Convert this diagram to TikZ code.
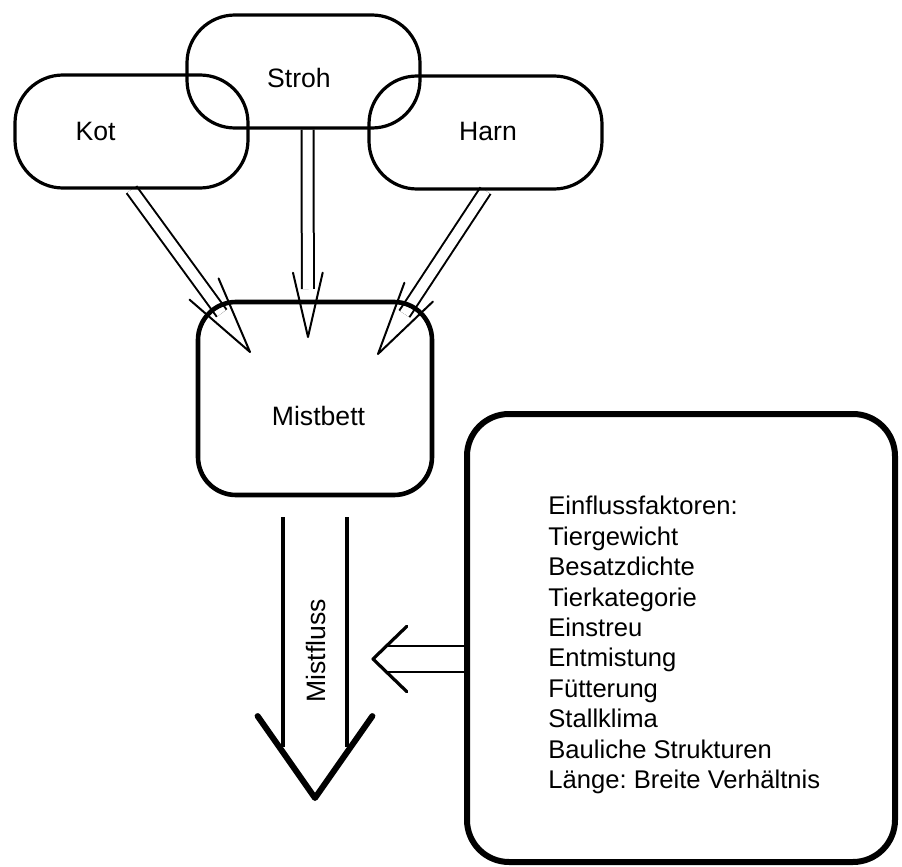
\documentclass[tikz,border=0pt]{standalone}
\usepackage{fontspec}
\setmainfont{Liberation Sans}
\usetikzlibrary{calc,backgrounds}
\frenchspacing
\begin{document}
\begin{tikzpicture}[x=0.5pt,y=-0.5pt,line join=round,
  font=\fontsize{12.8}{15.2}\selectfont,
  quelle/.style={draw,line width=1.6pt,rounded corners=24pt,
    minimum width=116.5pt,minimum height=56.5pt,inner sep=0pt},
  marke/.style={font=\fontsize{13.3}{16}\selectfont},
  schaft/.style={draw,line width=1pt,double,double distance=5pt,line cap=butt},
  spitze/.style={line width=1pt,line cap=round},
  flussschaft/.style={line width=2pt,line cap=butt},
  flussspitze/.style={line width=3pt,line cap=round},
  einschaft/.style={line width=1.3pt,line cap=butt},
  einspitze/.style={line width=1.6pt,line cap=round}]

  \useasboundingbox (0,0) rectangle (902,867);

  % ---- sources ----
  \node[quelle] (kot)   at (131.5,131.5) {};
  \node[quelle] (stroh) at (303.5,71.5) {};
  \node[quelle] (harn)  at (485.5,132.5) {};
  \node[marke] (kottext)   at (95.5,131) {Kot};
  \node[marke] (strohtext) at (299,78) {Stroh};
  \node[marke] (harntext)  at (488,131) {Harn};

  % ---- manure bed ----
  \node[draw,line width=2.3pt,rounded corners=19pt,minimum width=117pt,
    minimum height=96.5pt,inner sep=0pt] (bett) at (315,398.5) {};
  \node[marke] (betttext) at (318.5,416) {Mistbett};

  % ---- factors ----
  \node[draw,line width=3pt,rounded corners=21pt,minimum width=214pt,
    minimum height=224pt,inner sep=0pt] (fakt) at (681,638) {};
  \node[anchor=north west,inner sep=0pt,align=left] (liste) at (548,496)
    {Einflussfaktoren:\\Tiergewicht\\Besatzdichte\\Tierkategorie\\Einstreu\\
     Entmistung\\Fütterung\\Stallklima\\Bauliche Strukturen\\Länge: Breite Verhältnis};

  % arrow ends
  \coordinate (strohaus) at ([xshift=2pt]stroh.south);
  \coordinate (kottip)   at (250,352);
  \coordinate (strohtip) at (308,337);
  \coordinate (harntip)  at (378,354);
  \coordinate (flussaus)  at ([yshift=-10pt]bett.south);
  \coordinate (flussende) at (315,747);
  \coordinate (flusstip)  at (315,798);
  \coordinate (einaus) at ([yshift=-10.5pt]fakt.west);
  \coordinate (einende) at (386,659);
  \coordinate (eintip) at (373,659);

  % shafts behind the boxes
  \begin{pgfonlayer}{background}
    \foreach \von/\nach in {kot.south/kottip,strohaus/strohtip,harn.south/harntip} {
      \draw[schaft] (\von) -- ($(\nach)!24pt!(\von)$);
    }
  \end{pgfonlayer}
  \foreach \s in {-16pt,16pt} {
    \draw[flussschaft] ([xshift=\s]flussaus) -- ([xshift=\s]flussende);
  }
  \foreach \s in {-6.5pt,6.5pt} {
    \draw[einschaft] ([yshift=\s]einaus) -- ([yshift=\s]einende);
  }

  % ---- arrow heads ----
  \foreach \von/\nach/\lang in {kot.south/kottip/40pt,strohaus/strohtip/33pt,harn.south/harntip/38pt} {
    \draw[spitze] ($(\nach)!\lang!13:(\von)$) -- (\nach) -- ($(\nach)!\lang!-13:(\von)$);
  }
  \draw[flussspitze] ($(flusstip)!50pt!35:(flussende)$) -- (flusstip)
    -- ($(flusstip)!50pt!-35:(flussende)$);
  \draw[einspitze] ($(eintip)!23.5pt!44:(einaus)$) -- (eintip)
    -- ($(eintip)!23.5pt!-44:(einaus)$);

  \node[marke,rotate=90] (fluss) at (316,651) {Mistfluss};
\end{tikzpicture}
\end{document}
